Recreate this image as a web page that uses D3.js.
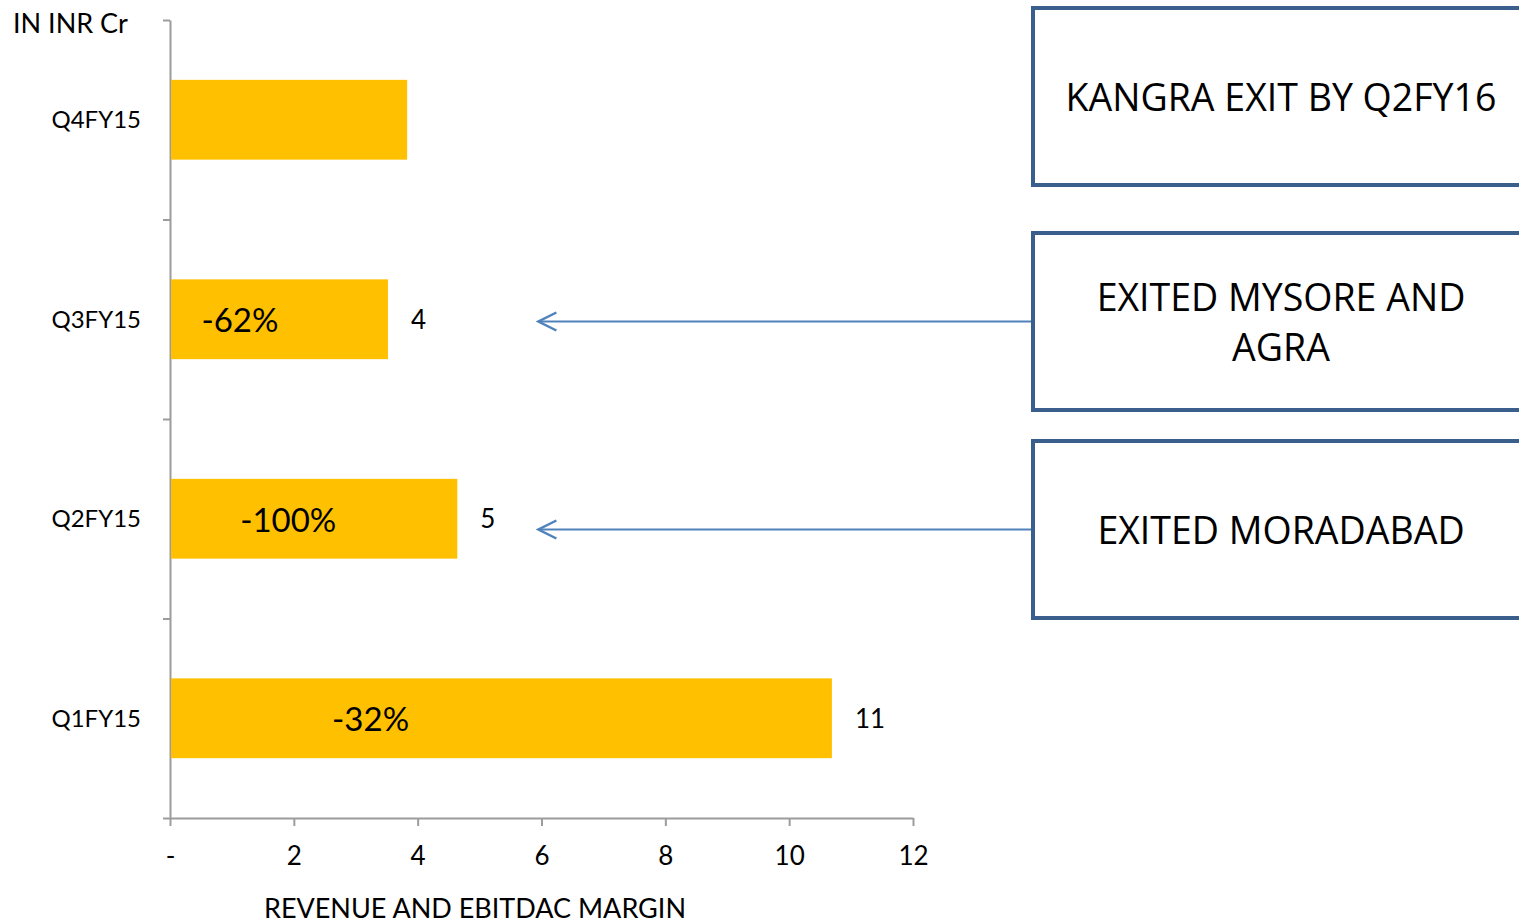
<!DOCTYPE html>
<html>
<head>
<meta charset="utf-8">
<script src="https://cdn.jsdelivr.net/npm/d3@7"></script>
<style>
  body { margin: 0; background: #fff; }
  svg { display: block; }
  text { font-family: Lato, "Liberation Sans", sans-serif; fill: #000; }
  .box-text { font-family: "Open Sans", "Noto Sans", sans-serif; }
</style>
</head>
<body>
<div id="chart"></div>
<script>
// Quarters, top to bottom as drawn.
const quarters = ['Q4FY15', 'Q3FY15', 'Q2FY15', 'Q1FY15'];
// Revenue, INR Cr.
const revenue = [3.83, 3.52, 4.64, 10.69];
// Rounded labels next to the bars (none on Q4FY15).
const valueLabels = ['', '4', '5', '11'];
// EBITDAC margin written inside the bars.
const marginLabels = ['', '-62%', '-100%', '-32%'];
// Where the margin text sits, in axis units.
const marginAt = [0, 1.13, 1.91, 3.24];
const xTicks = [0, 2, 4, 6, 8, 10, 12];

// Callout boxes on the right.
const notes = [
    ['KANGRA EXIT BY Q2FY16'],
    ['EXITED MYSORE AND', 'AGRA'],
    ['EXITED MORADABAD']
];
// Which notes get an arrow, and where it points (axis units).
const arrowFrom = [1, 2];
const arrowTip = 5.95;

const width = 1519, height = 922;

const svg = d3.select('#chart')
    .append('svg')
    .attr('width', width)
    .attr('height', height);

const x = d3.scaleLinear().domain([0, 12]).range([170, 913]);
const y = d3.scaleBand()
    .domain(quarters)
    .range([20, 818])
    .paddingInner(0.6)
    .paddingOuter(0.3);
// Tick marks between categories.
const yEdges = d3.scaleLinear().domain([0, quarters.length]).range([20, 818]);

const axisColor = '#9c9c9c';

// X axis.
const xAxis = svg.append('g')
    .attr('transform', `translate(0,${yEdges(quarters.length)})`)
    .call(d3.axisBottom(x)
        .tickValues(xTicks)
        .tickSize(8)
        .tickSizeOuter(0)
        .tickFormat((d) => (d === 0 ? '-' : d)));
xAxis.select('.domain').attr('stroke', axisColor).attr('stroke-width', 2);
xAxis.selectAll('.tick line').attr('stroke', axisColor).attr('stroke-width', 2);
xAxis.selectAll('.tick text')
    .attr('y', 47)
    .attr('dy', 0)
    .style('font-family', 'Lato')
    .style('font-size', '26px')
    .attr('fill', '#000');

// Y axis line with ticks on category edges.
const yAxis = svg.append('g')
    .attr('transform', `translate(${x(0)},0)`)
    .call(d3.axisLeft(yEdges)
        .tickValues(d3.range(quarters.length + 1))
        .tickSize(7)
        .tickSizeOuter(0)
        .tickFormat(''));
yAxis.select('.domain').attr('stroke', axisColor).attr('stroke-width', 2);
yAxis.selectAll('.tick line').attr('stroke', axisColor).attr('stroke-width', 2);

// Category labels.
svg.append('g')
    .selectAll('text')
    .data(quarters)
    .join('text')
    .attr('x', 141)
    .attr('y', (d) => y(d) + y.bandwidth() / 2)
    .attr('dy', '0.36em')
    .attr('text-anchor', 'end')
    .style('font-size', '24px')
    .text((d) => d);

// Bars.
svg.append('g')
    .selectAll('rect')
    .data(quarters)
    .join('rect')
    .attr('x', x(0) + 1)
    .attr('y', (d) => y(d))
    .attr('width', (d, i) => x(revenue[i]) - x(0) - 1)
    .attr('height', y.bandwidth())
    .attr('fill', '#FFC000');

// Value labels.
svg.append('g')
    .selectAll('text')
    .data(quarters)
    .join('text')
    .attr('x', (d, i) => x(revenue[i]) + 23)
    .attr('y', (d) => y(d) + y.bandwidth() / 2)
    .attr('dy', '0.36em')
    .style('font-size', '26px')
    .text((d, i) => valueLabels[i]);

// Margin labels inside bars.
svg.append('g')
    .selectAll('text')
    .data(quarters)
    .join('text')
    .attr('x', (d, i) => x(marginAt[i]))
    .attr('y', (d) => y(d) + y.bandwidth() / 2 + 1)
    .attr('dy', '0.36em')
    .attr('text-anchor', 'middle')
    .style('font-size', '33px')
    .text((d, i) => marginLabels[i]);

// Unit label and axis title.
svg.append('text')
    .attr('x', 13)
    .attr('y', 33)
    .style('font-size', '27px')
    .text('IN INR Cr');

svg.append('text')
    .attr('x', 475)
    .attr('y', 918)
    .attr('text-anchor', 'middle')
    .style('font-size', '27px')
    .text('REVENUE AND EBITDAC MARGIN');

// Callout boxes.
const boxLeft = 1033, boxW = 520;
const boxTop = [8, 233, 441];
const boxH = 177;

const boxes = svg.append('g')
    .selectAll('g')
    .data(notes)
    .join('g')
    .attr('transform', (d, i) => `translate(${boxLeft},${boxTop[i]})`);

boxes.append('rect')
    .attr('width', boxW)
    .attr('height', boxH)
    .attr('fill', '#fff')
    .attr('stroke', '#3B5F8C')
    .attr('stroke-width', 4);

boxes.each(function (lines) {
    const g = d3.select(this);
    const lineH = 50;
    const y0 = boxH / 2 - ((lines.length - 1) * lineH) / 2;
    g.selectAll('text')
        .data(lines)
        .join('text')
        .attr('class', 'box-text')
        .attr('x', 248)
        .attr('y', (d, i) => y0 + i * lineH + 1)
        .attr('dy', '0.36em')
        .attr('text-anchor', 'middle')
        .style('font-size', '37.5px')
        .text((d) => d);
});

// Arrows from boxes to bars.
const arrowColor = '#4F81BD';
const arrows = svg.append('g')
    .selectAll('g')
    .data(arrowFrom)
    .join('g')
    .attr('transform', (d) => `translate(0,${boxTop[d] + boxH / 2})`);

arrows.append('line')
    .attr('x1', boxLeft - 2)
    .attr('x2', x(arrowTip))
    .attr('stroke', arrowColor)
    .attr('stroke-width', 2);

arrows.append('path')
    .attr('d', `M${x(arrowTip) + 18},-9L${x(arrowTip)},0L${x(arrowTip) + 18},9`)
    .attr('fill', 'none')
    .attr('stroke', arrowColor)
    .attr('stroke-width', 2.5);
</script>
</body>
</html>
